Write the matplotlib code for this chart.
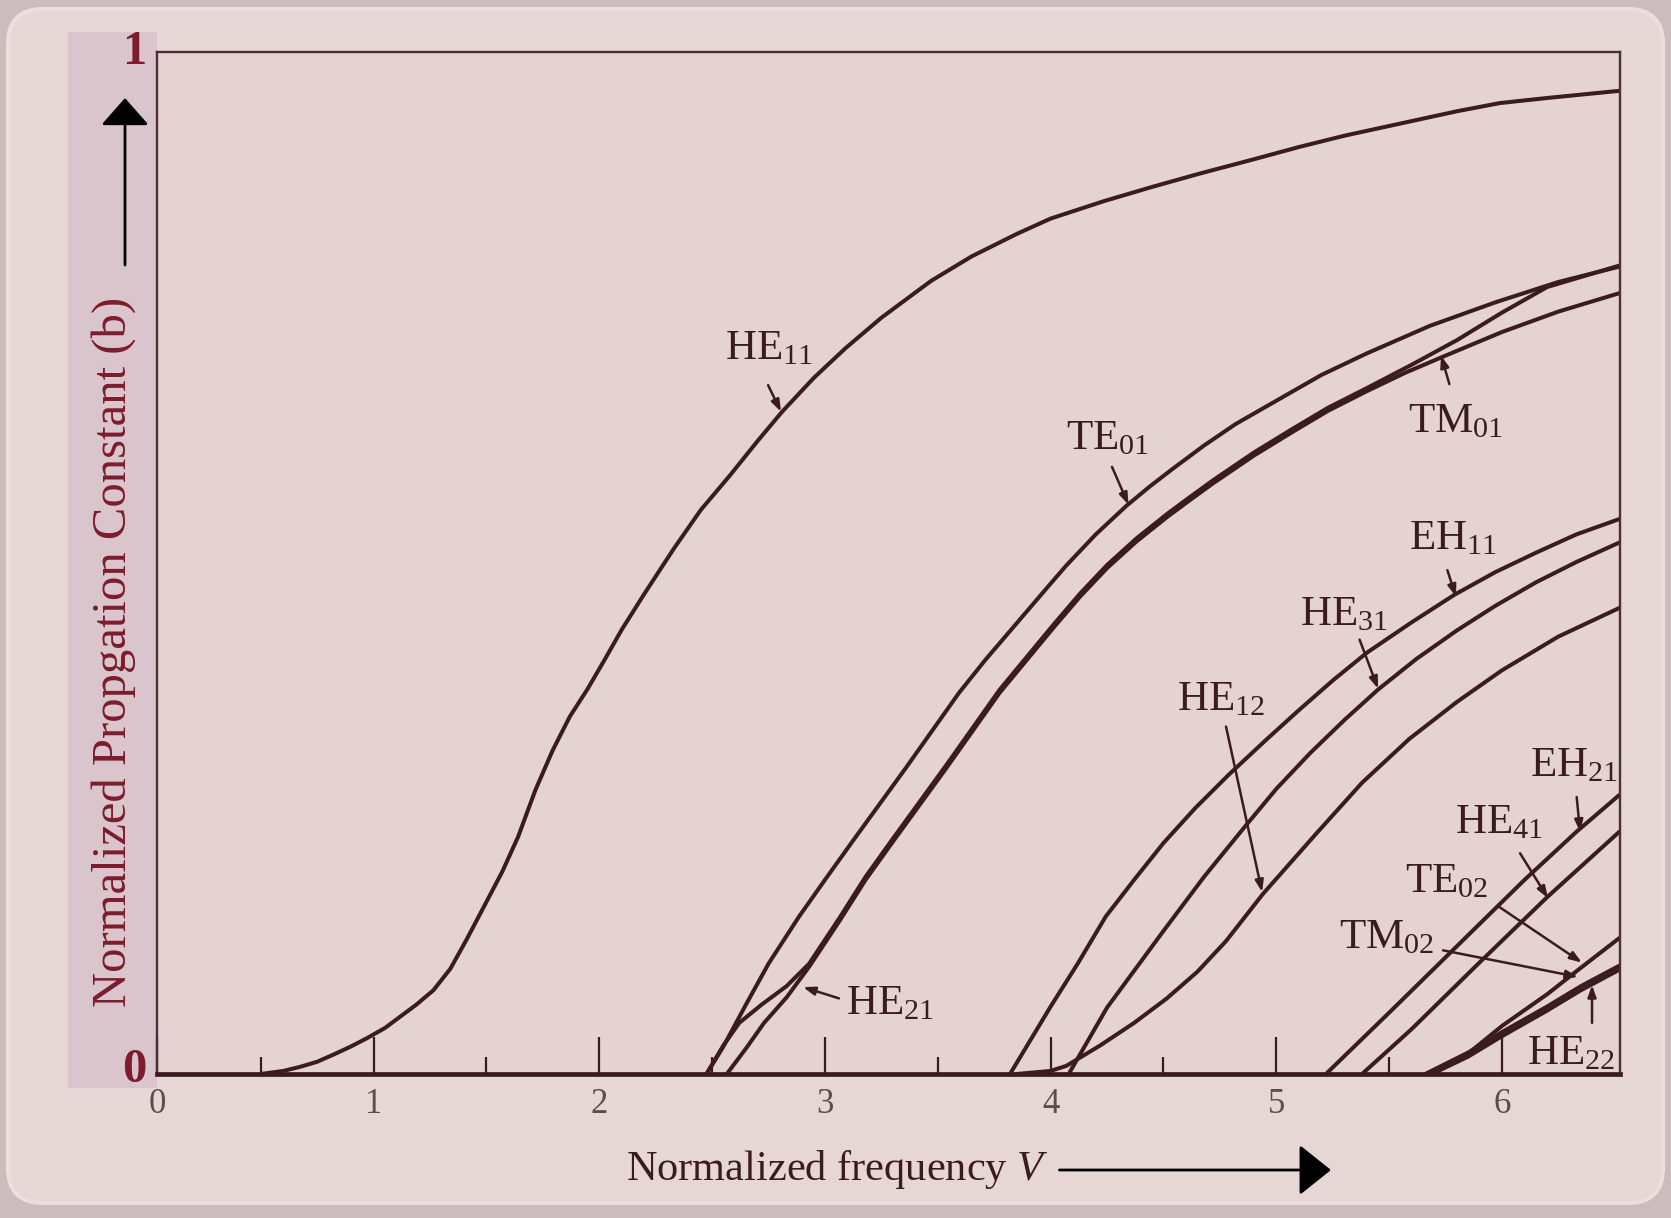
import matplotlib
matplotlib.use("Agg")
import matplotlib.pyplot as plt
from matplotlib.patches import FancyBboxPatch, Rectangle
from matplotlib.ticker import FixedLocator

plt.rcParams['font.family'] = ['Liberation Serif', 'DejaVu Serif']
plt.rcParams['mathtext.fontset'] = 'custom'
plt.rcParams['mathtext.rm'] = 'Liberation Serif'
plt.rcParams['mathtext.it'] = 'Liberation Serif:italic'

# b versus V, one pair of lists per mode
he11_v = [0.50, 0.60, 0.674, 0.75, 0.822, 0.90, 0.97, 1.05, 1.117, 1.19, 1.265, 1.34, 1.413, 1.494, 1.57,
          1.64, 1.717, 1.794, 1.87, 1.946, 2.02, 2.10, 2.20, 2.33, 2.45, 2.58, 2.70, 2.81, 2.95, 3.09,
          3.25, 3.47, 3.65, 3.85, 4.0, 4.235, 4.45, 4.66, 4.9, 5.10, 5.30, 5.55, 5.80, 5.99, 6.20, 6.52]
he11_b = [0.000, 0.003, 0.007, 0.012, 0.019, 0.027, 0.035, 0.045, 0.056, 0.068, 0.082, 0.103, 0.132, 0.166,
          0.198, 0.232, 0.278, 0.317, 0.350, 0.376, 0.404, 0.435, 0.470, 0.514, 0.552, 0.586, 0.619, 0.648,
          0.681, 0.710, 0.740, 0.776, 0.800, 0.822, 0.837, 0.854, 0.868, 0.881, 0.895, 0.907, 0.918, 0.930,
          0.942, 0.950, 0.955, 0.962]

te01_v = [2.475, 2.55, 2.65, 2.75, 2.885, 3.0, 3.12, 3.36, 3.594, 3.71, 3.83, 3.95, 4.067, 4.20, 4.336,
          4.44, 4.54, 4.68, 4.82, 5.01, 5.20, 5.40, 5.68, 5.97, 6.25, 6.52]
te01_b = [0.0, 0.027, 0.068, 0.108, 0.154, 0.19, 0.227, 0.30, 0.373, 0.405, 0.436, 0.467, 0.497, 0.528,
          0.556, 0.575, 0.592, 0.615, 0.636, 0.660, 0.684, 0.705, 0.732, 0.755, 0.775, 0.79]

tm01_v = [2.565, 2.65, 2.73, 2.83, 2.93, 3.065, 3.18, 3.30, 3.54, 3.774, 4.01, 4.13, 4.25, 4.38, 4.516,
          4.62, 4.72, 4.90, 5.07, 5.23, 5.40, 5.57, 5.74, 6.0, 6.25, 6.52]
tm01_b = [0.0, 0.025, 0.05, 0.075, 0.105, 0.15, 0.19, 0.227, 0.30, 0.373, 0.436, 0.467, 0.495, 0.521,
          0.545, 0.562, 0.578, 0.605, 0.628, 0.649, 0.668, 0.686, 0.702, 0.726, 0.746, 0.764]

he21_v = [2.475, 2.55, 2.62, 2.72, 2.83, 2.93, 3.065, 3.18, 3.30, 3.54, 3.774, 4.01, 4.13, 4.25, 4.38,
          4.516, 4.62, 4.72, 4.90, 5.07, 5.23, 5.40, 5.60, 5.80, 6.0, 6.20, 6.52]
he21_b = [0.0, 0.028, 0.050, 0.068, 0.086, 0.108, 0.153, 0.193, 0.230, 0.303, 0.376, 0.439, 0.470, 0.498,
          0.524, 0.548, 0.565, 0.581, 0.608, 0.631, 0.652, 0.671, 0.694, 0.718, 0.745, 0.770, 0.791]

eh11_v = [3.82, 4.0, 4.12, 4.244, 4.37, 4.5, 4.64, 4.79, 4.95, 5.1, 5.25, 5.4, 5.6, 5.79, 5.97, 6.15,
          6.33, 6.52]
eh11_b = [0.0, 0.066, 0.108, 0.154, 0.19, 0.226, 0.26, 0.293, 0.326, 0.356, 0.385, 0.412, 0.442, 0.469,
          0.491, 0.510, 0.528, 0.543]

he31_v = [4.08, 4.25, 4.5, 4.68, 4.857, 5.0, 5.15, 5.3, 5.45, 5.62, 5.8, 5.97, 6.15, 6.33, 6.52]
he31_b = [0.0, 0.065, 0.14, 0.193, 0.241, 0.279, 0.314, 0.346, 0.376, 0.406, 0.434, 0.458, 0.481, 0.501,
          0.520]

he12_v = [3.85, 4.0, 4.07, 4.22, 4.37, 4.515, 4.65, 4.777, 4.94, 5.18, 5.38, 5.59, 5.80, 6.0, 6.25, 6.52]
he12_b = [0.0, 0.003, 0.008, 0.028, 0.05, 0.074, 0.10, 0.13, 0.176, 0.236, 0.285, 0.328, 0.364, 0.395,
          0.428, 0.456]

eh21_v = [5.22, 5.5, 5.8, 6.1, 6.33, 6.52]
eh21_b = [0.0, 0.06, 0.125, 0.19, 0.237, 0.273]

he41_v = [5.38, 5.6, 5.9, 6.2, 6.52]
he41_b = [0.0, 0.044, 0.109, 0.173, 0.237]

te02_v = [5.69, 5.85, 6.0, 6.2, 6.35, 6.52]
te02_b = [0.0, 0.02, 0.047, 0.078, 0.104, 0.133]

tm02_v = [5.69, 5.85, 6.0, 6.2, 6.35, 6.52]
tm02_b = [0.0, 0.017, 0.037, 0.062, 0.082, 0.102]

he22_v = [5.66, 5.85, 6.0, 6.2, 6.35, 6.52]
he22_b = [0.0, 0.021, 0.041, 0.066, 0.086, 0.106]

x_tick_values = [0.04, 1, 2, 3, 4, 5, 6]
x_tick_labels = ['0', '1', '2', '3', '4', '5', '6']
x_minor_values = [0.5, 1.5, 2.5, 3.5, 4.5, 5.5]

INK = '#3a1c1f'
RED = '#7c1c2c'

fig = plt.figure(figsize=(16.71, 12.18), dpi=100)
fig.patch.set_facecolor('#cdbcbd')

# rounded panel and the shaded band behind the y label
panel = FancyBboxPatch((0.08, 0.15), 16.55, 11.94, boxstyle='round,pad=0,rounding_size=0.35',
                       transform=fig.dpi_scale_trans, facecolor='#e6d6d4', edgecolor='#ecdedd',
                       linewidth=3, zorder=-3)
fig.add_artist(panel)
band = Rectangle((0.68, 1.30), 0.89, 10.56, transform=fig.dpi_scale_trans,
                 facecolor='#dac5cc', edgecolor='none', zorder=-2)
fig.add_artist(band)

ax = fig.add_axes([0.09396, 0.11823, 0.87552, 0.83908])
ax.set_facecolor('#e4d3d1')

curves = [(he11_v, he11_b), (te01_v, te01_b), (tm01_v, tm01_b), (he21_v, he21_b),
          (eh11_v, eh11_b), (he31_v, he31_b), (he12_v, he12_b), (eh21_v, eh21_b),
          (he41_v, he41_b), (te02_v, te02_b), (tm02_v, tm02_b), (he22_v, he22_b)]
for v, b in curves:
    ax.plot(v, b, color=INK, lw=2.9, solid_capstyle='round', solid_joinstyle='round')

ax.set_xlim(0.04, 6.523)
ax.set_ylim(0, 1)

for side in ['left', 'top', 'right']:
    ax.spines[side].set_color('#4a3033')
    ax.spines[side].set_linewidth(1.7)
ax.spines['bottom'].set_color(INK)
ax.spines['bottom'].set_linewidth(3.4)

ax.xaxis.set_major_locator(FixedLocator(x_tick_values))
ax.set_xticklabels(x_tick_labels)
ax.xaxis.set_minor_locator(FixedLocator(x_minor_values))
ax.tick_params(axis='x', which='major', direction='in', length=27, width=1.6, color=INK,
               labelsize=25, labelcolor='#5e4b4e', pad=10)
ax.tick_params(axis='x', which='minor', direction='in', length=12, width=1.6, color=INK)
ax.set_yticks([])

ytrans = ax.get_yaxis_transform()
ax.text(-0.007, 0.004, '0', transform=ytrans, ha='right', va='center', fontsize=35,
        fontweight='bold', color=RED)
ax.text(-0.007, 1.0, '1', transform=ytrans, ha='right', va='center', fontsize=35,
        fontweight='bold', color=RED, clip_on=False)

# mode labels with their pointer arrows
labels = [
    (r'HE$_{11}$', 2.557, 0.699, (2.748, 0.674), (2.805, 0.648)),
    (r'TE$_{01}$', 4.068, 0.611, (4.272, 0.594), (4.345, 0.557)),
    (r'TM$_{01}$', 5.583, 0.628, (5.767, 0.675), (5.730, 0.703)),
    (r'EH$_{11}$', 5.588, 0.513, (5.758, 0.493), (5.796, 0.467)),
    (r'HE$_{31}$', 5.105, 0.439, (5.369, 0.425), (5.451, 0.377)),
    (r'HE$_{12}$', 4.560, 0.356, (4.777, 0.340), (4.937, 0.178)),
    (r'EH$_{21}$', 6.124, 0.291, (6.331, 0.271), (6.346, 0.237)),
    (r'HE$_{41}$', 5.792, 0.236, (6.080, 0.216), (6.204, 0.172)),
    (r'TE$_{02}$', 5.570, 0.178, (5.991, 0.163), (6.354, 0.109)),
    (r'TM$_{02}$', 5.280, 0.123, (5.739, 0.121), (6.337, 0.095)),
    (r'HE$_{21}$', 3.094, 0.058, (3.062, 0.074), (2.903, 0.085)),
    (r'HE$_{22}$', 6.110, 0.009, (6.399, 0.050), (6.399, 0.087)),
]
for text, tx, ty, start, tip in labels:
    ax.text(tx, ty, text, fontsize=31, color=INK, ha='left', va='baseline')
    ax.annotate('', xy=tip, xytext=start,
                arrowprops=dict(arrowstyle='-|>,head_length=7,head_width=2.5', mutation_scale=1,
                                color=INK, lw=1.8, shrinkA=0, shrinkB=0))

# axis titles with their long arrows
fig.text(0.0682, 0.4647, 'Normalized Propgation Constant (b)', rotation=90, ha='center', va='center',
         fontsize=35, color=RED)
ax.annotate('', xy=(0.0748, 0.9195), xytext=(0.0748, 0.7824), xycoords='figure fraction',
            textcoords='figure fraction', annotation_clip=False,
            arrowprops=dict(arrowstyle='-|>,head_length=17,head_width=15', mutation_scale=1,
                            color='black', lw=2, shrinkA=0, shrinkB=0))

fig.text(0.3749, 0.0312, r'Normalized frequency $\mathit{V}$', ha='left', va='baseline',
         fontsize=30.5, color=INK)
ax.annotate('', xy=(0.7965, 0.0394), xytext=(0.6340, 0.0394), xycoords='figure fraction',
            textcoords='figure fraction', annotation_clip=False,
            arrowprops=dict(arrowstyle='-|>,head_length=20,head_width=16', mutation_scale=1,
                            color='black', lw=2, shrinkA=0, shrinkB=0))

fig.savefig('out.png', dpi=100, facecolor=fig.get_facecolor())
